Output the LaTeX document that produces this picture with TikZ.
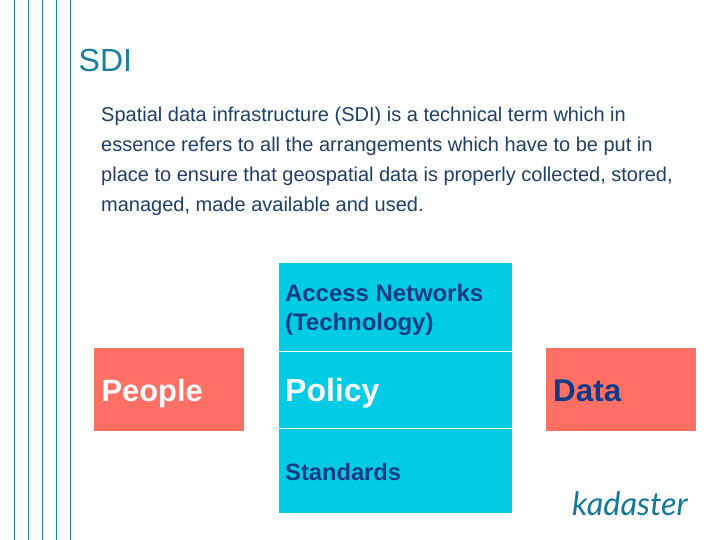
\documentclass[tikz,border=0pt]{standalone}
\usepackage{fontspec}
\setmainfont{Liberation Sans}
\newfontfamily\logofont{Lato}
\definecolor{titleblue}{HTML}{1B7F9E}
\definecolor{bodyblue}{HTML}{1F3F68}
\definecolor{navy}{HTML}{0F3A88}
\definecolor{cyanbox}{HTML}{00CCE6}
\definecolor{salmon}{HTML}{FF6F64}
\definecolor{logoblue}{HTML}{15779B}
\tikzset{
  boxlabel/.style={anchor=base west, inner xsep=7pt, inner ysep=0pt, align=left},
  cyanrect/.style={fill=cyanbox, draw=none},
  salmonrect/.style={fill=salmon, draw=none}
}
\begin{document}
\begin{tikzpicture}[x=1pt, y=-1pt]
  \useasboundingbox (0, 0) rectangle (720, 540);
  \fill[white] (0, 0) rectangle (720, 540);
  % stripes on the left
  \foreach \xpos in {14, 28.2, 42.4, 56.5, 70.6}
    \draw[titleblue, line width=0.9pt] (\xpos, 0) -- (\xpos, 540);
  \node[anchor=base west, inner sep=0pt, text=titleblue, font=\fontsize{32}{32}\selectfont] (title) at (78.5, 72) {SDI};
  \node[anchor=north west, inner sep=0pt, text=bodyblue, align=left, font=\fontsize{20}{29.9}\selectfont] (intro) at (101, 107) {Spatial data infrastructure (SDI) is a technical term which in\\essence refers to all the arrangements which have to be put in\\place to ensure that geospatial data is properly collected, stored,\\managed, made available and used.};
  % the boxes
  \fill[cyanrect] (279, 263) rectangle (512, 351);
  \fill[cyanrect] (279, 352) rectangle (512, 428);
  \fill[cyanrect] (279, 429) rectangle (512, 513);
  \fill[salmonrect] (94, 348) rectangle (244, 431);
  \fill[salmonrect] (546, 348) rectangle (696, 431);
  \node[boxlabel, text=navy, font=\bfseries\fontsize{23.9}{29}\selectfont] (access) at (278, 330) {Access Networks\\(Technology)};
  \node[boxlabel, text=white, font=\bfseries\fontsize{32}{32}\selectfont] (policy) at (278, 401) {Policy};
  \node[boxlabel, text=navy, font=\bfseries\fontsize{23.7}{24}\selectfont] (standards) at (278, 480) {Standards};
  \node[boxlabel, text=white, font=\bfseries\fontsize{30.8}{31}\selectfont] (people) at (94.5, 401) {People};
  \node[boxlabel, text=navy, font=\bfseries\fontsize{31.4}{32}\selectfont] (data) at (546, 401) {Data};
  \node[anchor=base west, inner sep=0pt, text=logoblue, font=\logofont\itshape\fontsize{32.4}{33}\selectfont] (logo) at (572, 515) {kadaster};
\end{tikzpicture}
\end{document}
